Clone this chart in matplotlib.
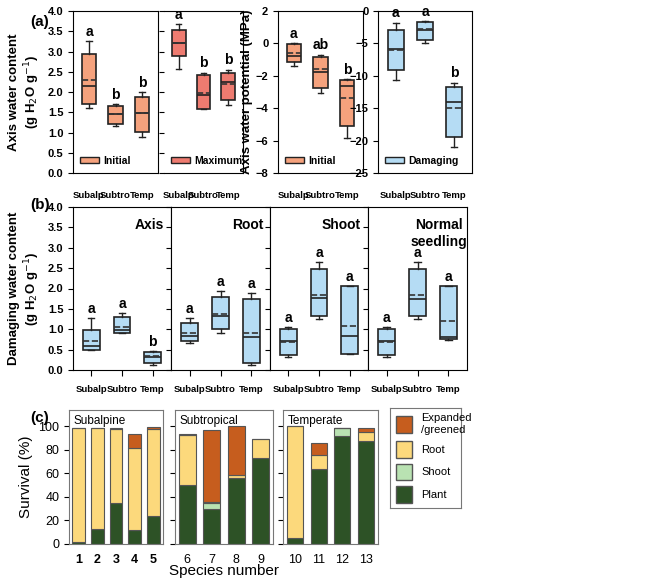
import matplotlib.pyplot as plt
from matplotlib.patches import Patch

groups = ['Subalp', 'Subtro', 'Temp']
# box stats per group: whislo, q1, med, mean, q3, whishi
a_initial = [[1.6, 1.7, 2.15, 2.3, 2.95, 3.25], [1.15, 1.22, 1.45, 1.45, 1.65, 1.7], [0.9, 1.02, 1.47, 1.47, 1.88, 2.0]]
a_maximum = [[2.58, 2.88, 3.22, 3.2, 3.52, 3.68], [1.57, 1.58, 1.92, 1.97, 2.42, 2.48], [1.68, 1.8, 2.25, 2.2, 2.48, 2.55]]
a_pot_init = [[-1.4, -1.15, -0.8, -0.6, -0.05, 0.0], [-3.05, -2.75, -1.75, -1.6, -0.85, -0.7], [-5.85, -5.1, -2.65, -3.35, -2.25, -2.2]]
a_pot_dam = [[-10.7, -9.1, -5.8, -6.0, -2.9, -1.8], [-5.0, -4.5, -2.9, -2.8, -1.7, -1.6], [-21.0, -19.5, -14.0, -15.0, -11.8, -11.1]]
b_axis = [[0.48, 0.5, 0.6, 0.71, 0.98, 1.27], [0.9, 0.92, 0.98, 1.06, 1.3, 1.4], [0.13, 0.18, 0.33, 0.35, 0.44, 0.46]]
b_root = [[0.66, 0.7, 0.83, 0.9, 1.15, 1.27], [0.92, 1.0, 1.33, 1.37, 1.8, 1.94], [0.13, 0.17, 0.8, 0.92, 1.75, 1.88]]
b_shoot = [[0.32, 0.37, 0.7, 0.68, 1.0, 1.05], [1.24, 1.32, 1.77, 1.85, 2.47, 2.64], [0.4, 0.4, 0.83, 1.08, 2.05, 2.05]]
b_normal = [[0.32, 0.37, 0.7, 0.68, 1.0, 1.05], [1.24, 1.32, 1.74, 1.84, 2.47, 2.64], [0.74, 0.75, 0.82, 1.21, 2.05, 2.05]]

species = [1, 2, 3, 4, 5, 6, 7, 8, 9, 10, 11, 12, 13]
plant = [2, 13, 35, 12, 24, 50, 30, 56, 73, 5, 64, 92, 88]
shoot = [0, 0, 0, 0, 0, 0, 5, 0, 0, 0, 0, 7, 0]
root = [97, 86, 63, 70, 74, 43, 0.5, 3, 16, 95, 12, 0, 7]
expanded = [0, 0, 0.5, 12, 1.5, 0.5, 61.5, 41, 0, 0, 10, 0, 3.5]

W, H = 661, 586
fig = plt.figure(figsize=(W / 100, H / 100), dpi=100)
plt.rcParams['font.family'] = ['Liberation Sans', 'DejaVu Sans']

SALMON = '#F5A27D'
RED = '#EE7B70'
BLUE = '#B5DCF4'


def px_axes(x0, y0, x1, y1):
    return fig.add_axes([x0 / W, 1 - y1 / H, (x1 - x0) / W, (y1 - y0) / H])


def boxes(ax, data, color, letters, ylim, legend=None, ticks=True):
    stats = [dict(whislo=d[0], q1=d[1], med=d[2], mean=d[3], q3=d[4], whishi=d[5], fliers=[]) for d in data]
    ax.bxp(stats, positions=[1, 2, 3], widths=0.55, patch_artist=True, showmeans=True, meanline=True,
           boxprops=dict(facecolor=color, edgecolor='#222222', linewidth=1.2),
           medianprops=dict(color='#222222', linewidth=1.2),
           meanprops=dict(color='#333333', linestyle='--', linewidth=1.2),
           whiskerprops=dict(color='#222222', linewidth=1.0),
           capprops=dict(color='#222222', linewidth=1.0), capwidths=0.2)
    ax.set_xlim(0.4, 3.6)
    ax.set_ylim(*ylim)
    span = ylim[1] - ylim[0]
    for i, d in enumerate(data):
        ax.text(i + 1, d[5] + span * 0.015, letters[i], ha='center', va='bottom', fontsize=10, fontweight='bold')
    ax.set_xticks([1, 2, 3])
    ax.set_xticklabels(groups, fontsize=6.8, fontweight='bold')
    ax.tick_params(axis='x', length=4 if ticks else 0, pad=13 if not ticks else 7)
    ax.tick_params(axis='y', labelsize=8)
    for t in ax.get_yticklabels():
        t.set_fontweight('bold')
    if legend:
        ax.legend(handles=[Patch(facecolor=color, edgecolor='#222222', label=legend)], loc='lower left',
                  frameon=False, handlelength=1.8, handleheight=0.6, borderaxespad=0.3, handletextpad=0.4,
                  prop=dict(weight='bold', size=7.5))


# (a)
a1 = px_axes(73, 11, 158, 173)
boxes(a1, a_initial, SALMON, ['a', 'b', 'b'], (0, 4), legend='Initial', ticks=False)
a1.set_yticks([0, 0.5, 1, 1.5, 2, 2.5, 3, 3.5, 4])
a1.set_yticklabels(['0.0', '0.5', '1.0', '1.5', '2.0', '2.5', '3.0', '3.5', '4.0'], fontweight='bold')
a1.set_ylabel('Axis water content\n(g H$_2$O g$^{-1}$)', fontsize=9.5, fontweight='bold')
a2 = px_axes(164, 11, 243, 173)
boxes(a2, a_maximum, RED, ['a', 'b', 'b'], (0, 4), legend='Maximum', ticks=False)
a2.set_yticks([0, 0.5, 1, 1.5, 2, 2.5, 3, 3.5, 4])
a2.set_yticklabels([])
a2.spines['left'].set_visible(False)
a1.spines['right'].set_linewidth(0.8)
a3 = px_axes(278, 11, 363, 173)
boxes(a3, a_pot_init, SALMON, ['a', 'ab', 'b'], (-8, 2), legend='Initial', ticks=False)
a3.set_ylabel('Axis water potential (MPa)', fontsize=9.5, fontweight='bold', labelpad=2)
a4 = px_axes(378, 11, 472, 173)
boxes(a4, a_pot_dam, BLUE, ['a', 'a', 'b'], (-25, 0), legend='Damaging', ticks=False)
fig.text(30 / W, 1 - 22 / H, '(a)', fontsize=11, fontweight='bold', va='center')

# (b)
b_data = [(b_axis, ['a', 'a', 'b'], 'Axis'), (b_root, ['a', 'a', 'a'], 'Root'),
          (b_shoot, ['a', 'a', 'a'], 'Shoot'), (b_normal, ['a', 'a', 'a'], 'Normal\nseedling')]
bx = [73, 171, 270, 368, 467]
for i, (d, let, title) in enumerate(b_data):
    ax = px_axes(bx[i], 207, bx[i + 1], 370)
    boxes(ax, d, BLUE, let, (0, 4))
    ax.set_yticks([0, 0.5, 1, 1.5, 2, 2.5, 3, 3.5, 4])
    if i == 0:
        ax.set_yticklabels(['0.0', '0.5', '1.0', '1.5', '2.0', '2.5', '3.0', '3.5', '4.0'], fontweight='bold')
        ax.set_ylabel('Damaging water content\n(g H$_2$O g$^{-1}$)', fontsize=9.5, fontweight='bold')
    else:
        ax.set_yticklabels([])
    ax.text(0.93 if i < 3 else 0.72, 0.93, title, transform=ax.transAxes, ha='right' if i < 3 else 'center',
            va='top', fontsize=10, fontweight='bold', linespacing=1.2)
fig.text(30 / W, 1 - 205 / H, '(b)', fontsize=11, fontweight='bold', va='center')

# (c)
c_panels = [((69, 163), 0, 5, 'Subalpine'), ((175, 273), 5, 9, 'Subtropical'), ((283, 378), 9, 13, 'Temperate')]
colors = dict(plant='#2D5226', shoot='#B9E2B2', root='#FCD97C', exp='#C65D1E')
for k, ((x0, x1), s, e, name) in enumerate(c_panels):
    ax = px_axes(x0, 410, x1, 544)
    xs = species[s:e]
    p, sh, r, ex = plant[s:e], shoot[s:e], root[s:e], expanded[s:e]
    b1 = [a + b for a, b in zip(p, sh)]
    b2 = [a + b for a, b in zip(b1, r)]
    kw = dict(width=0.68, edgecolor='#555555', linewidth=0.8)
    ax.bar(xs, p, color=colors['plant'], **kw)
    ax.bar(xs, sh, bottom=p, color=colors['shoot'], **kw)
    ax.bar(xs, r, bottom=b1, color=colors['root'], **kw)
    ax.bar(xs, ex, bottom=b2, color=colors['exp'], **kw)
    ax.set_xlim(xs[0] - 0.5, xs[-1] + 0.5)
    ax.set_ylim(0, 114)
    ax.set_yticks([0, 20, 40, 60, 80, 100])
    ax.set_xticks(xs)
    ax.tick_params(axis='x', length=0, labelsize=9, pad=7)
    ax.tick_params(axis='y', labelsize=9, direction='out')
    if k == 0:
        ax.set_ylabel('Survival (%)', fontsize=11)
    else:
        ax.set_yticklabels([])
    if k == 1:
        ax.set_xlabel('Species number', fontsize=11, labelpad=-1)
    for sp in ax.spines.values():
        sp.set_color('#777777')
    ax.text(0.05, 0.96, name, transform=ax.transAxes, ha='left', va='top', fontsize=8.5)
    if k == 0:
        for t in ax.get_xticklabels():
            t.set_fontweight('bold')
fig.text(30 / W, 1 - 418 / H, '(c)', fontsize=11, fontweight='bold', va='center')

lax = px_axes(390, 408, 461, 508)
lax.set_xticks([])
lax.set_yticks([])
for sp in lax.spines.values():
    sp.set_color('#777777')
handles = [Patch(facecolor=colors['exp'], edgecolor='#555555', label='Expanded\n/greened'),
           Patch(facecolor=colors['root'], edgecolor='#555555', label='Root'),
           Patch(facecolor=colors['shoot'], edgecolor='#555555', label='Shoot'),
           Patch(facecolor=colors['plant'], edgecolor='#555555', label='Plant')]
lax.legend(handles=handles, loc='center left', frameon=False, fontsize=8, handlelength=1.5, handleheight=1.9,
           labelspacing=0.55, handletextpad=0.8, borderaxespad=0.1)

fig.savefig('out.png', dpi=100)
